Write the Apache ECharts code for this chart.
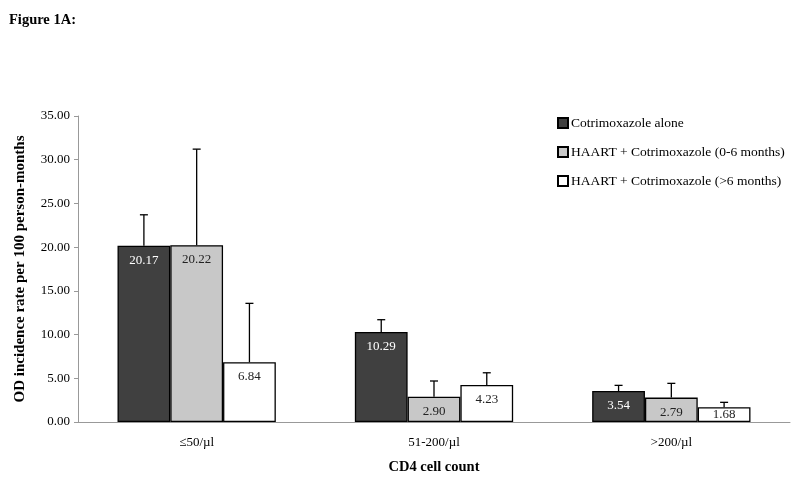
<!DOCTYPE html>
<html>
<head>
<meta charset="utf-8">
<script src="https://cdn.jsdelivr.net/npm/echarts@6/dist/echarts.min.js"></script>
<style>
html,body{margin:0;padding:0;background:#fff;}
#chart{width:800px;height:480px;}
</style>
</head>
<body>
<div id="chart"></div>
<script>
var categories = ['\u226450/\u00b5l', '51-200/\u00b5l', '>200/\u00b5l'];
var seriesNames = ['Cotrimoxazole alone', 'HAART + Cotrimoxazole (0-6 months)', 'HAART + Cotrimoxazole (>6 months)'];
var cotrimAlone = [20.17, 10.29, 3.54];
var haart06 = [20.22, 2.90, 2.79];
var haartOver6 = [6.84, 4.23, 1.68];
var upperCotrimAlone = [23.70, 11.70, 4.19];
var upperHaart06 = [31.21, 4.69, 4.42];
var upperHaartOver6 = [13.57, 5.63, 2.25];

var FONT = '"Liberation Serif", "Times New Roman", serif';
var values = [cotrimAlone, haart06, haartOver6];
var uppers = [upperCotrimAlone, upperHaart06, upperHaartOver6];
var fills = ['#404040', '#c8c8c8', '#ffffff'];
var labelColors = ['#ffffff', '#222222', '#222222'];
var CAT_GAP = 0.333;

var series = [];
values.forEach(function (vals, s) {
  series.push({
    name: seriesNames[s],
    type: 'bar',
    barGap: '0%',
    barCategoryGap: (CAT_GAP * 100) + '%',
    itemStyle: { color: fills[s], borderColor: '#000', borderWidth: 1.3 },
    label: {
      show: true, position: 'insideTop', distance: 8,
      color: labelColors[s], fontFamily: FONT, fontSize: 13,
      formatter: function (p) { return p.value.toFixed(2); }
    },
    data: vals.map(function (v) {
      return v < 2 ? { value: v, label: { position: 'inside' } } : v;
    }),
    z: 2
  });
});
uppers.forEach(function (ups, s) {
  series.push({
    type: 'custom',
    silent: true,
    z: 5,
    renderItem: function (params, api) {
      var xi = api.value(0), v = api.value(1), hi = api.value(2);
      var base = api.coord([xi, v]);
      var top = api.coord([xi, hi]);
      var band = api.size([1, 0])[0];
      var bw = band * (1 - CAT_GAP) / 3;
      var x = base[0] + (s - 1) * bw;
      var style = { stroke: '#000', lineWidth: 1.3 };
      return {
        type: 'group',
        children: [
          { type: 'line', shape: { x1: x, y1: base[1], x2: x, y2: top[1] }, style: style },
          { type: 'line', shape: { x1: x - 4, y1: top[1], x2: x + 4, y2: top[1] }, style: style }
        ]
      };
    },
    data: ups.map(function (u, i) { return [i, values[s][i], u]; })
  });
});

var chart = echarts.init(document.getElementById('chart'));
chart.setOption({
  animation: false,
  backgroundColor: '#fff',
  textStyle: { fontFamily: FONT },
  title: {
    text: 'Figure 1A:', left: 4, top: 8,
    textStyle: { fontFamily: FONT, fontSize: 14.5, fontWeight: 'bold', color: '#000' }
  },
  legend: {
    data: seriesNames,
    orient: 'vertical',
    left: 552, top: 111,
    icon: 'rect',
    itemWidth: 10, itemHeight: 10, itemGap: 15,
    textStyle: { fontFamily: FONT, fontSize: 13.5, color: '#000', padding: [0, 0, 0, -2] }
  },
  grid: { left: 78, right: 10, top: 116, bottom: 56 },
  xAxis: {
    type: 'category',
    data: categories,
    name: 'CD4 cell count',
    nameLocation: 'middle',
    nameGap: 38,
    nameTextStyle: { fontFamily: FONT, fontSize: 14.5, fontWeight: 'bold', color: '#000' },
    axisLine: { lineStyle: { color: '#999' } },
    axisTick: { lineStyle: { color: '#999' }, length: 4 },
    axisLabel: { fontFamily: FONT, fontSize: 13, color: '#000', margin: 14 }
  },
  yAxis: {
    type: 'value',
    min: 0, max: 35, interval: 5,
    name: 'OD incidence rate per 100 person-months',
    nameLocation: 'middle',
    nameGap: 50,
    nameTextStyle: { fontFamily: FONT, fontSize: 15, fontWeight: 'bold', color: '#000' },
    axisLine: { show: true, lineStyle: { color: '#999' } },
    axisTick: { show: true, lineStyle: { color: '#999' }, length: 4 },
    splitLine: { show: false },
    axisLabel: {
      fontFamily: FONT, fontSize: 13, color: '#000', margin: 8,
      formatter: function (v) { return v.toFixed(2); }
    }
  },
  series: series
});
</script>
</body>
</html>
